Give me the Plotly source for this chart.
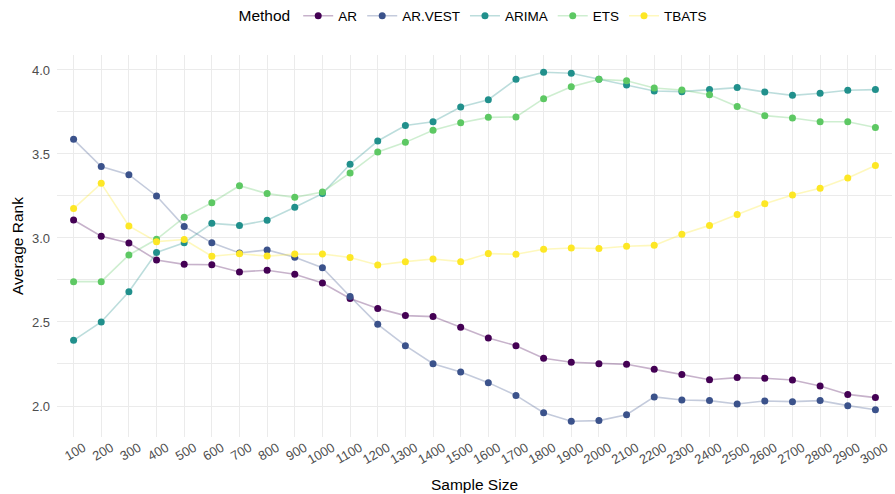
import plotly.graph_objects as go

sample_sizes = [100, 200, 300, 400, 500, 600, 700, 800, 900, 1000,
                1100, 1200, 1300, 1400, 1500, 1600, 1700, 1800, 1900, 2000,
                2100, 2200, 2300, 2400, 2500, 2600, 2700, 2800, 2900, 3000]
x_labels = [str(s) for s in sample_sizes]

ar = [3.107, 3.010, 2.970, 2.869, 2.843, 2.841, 2.798, 2.808, 2.784, 2.732,
      2.640, 2.581, 2.538, 2.532, 2.468, 2.405, 2.359, 2.284, 2.260, 2.252,
      2.248, 2.218, 2.188, 2.156, 2.169, 2.165, 2.155, 2.119, 2.069, 2.050]
ar_vest = [3.587, 3.425, 3.377, 3.250, 3.069, 2.971, 2.911, 2.929, 2.885, 2.823,
           2.652, 2.486, 2.359, 2.252, 2.202, 2.139, 2.063, 1.960, 1.909, 1.913,
           1.948, 2.054, 2.036, 2.032, 2.012, 2.030, 2.026, 2.032, 2.002, 1.978]
arima = [2.391, 2.500, 2.680, 2.914, 2.972, 3.087, 3.075, 3.105, 3.183, 3.264,
         3.439, 3.577, 3.669, 3.692, 3.780, 3.823, 3.944, 3.986, 3.980, 3.944,
         3.911, 3.875, 3.871, 3.883, 3.895, 3.869, 3.849, 3.861, 3.879, 3.883]
ets = [2.740, 2.740, 2.899, 2.992, 3.123, 3.210, 3.311, 3.264, 3.242, 3.274,
       3.387, 3.512, 3.569, 3.641, 3.686, 3.718, 3.720, 3.829, 3.900, 3.944,
       3.936, 3.893, 3.881, 3.853, 3.782, 3.728, 3.714, 3.692, 3.692, 3.657]
tbats = [3.175, 3.325, 3.072, 2.978, 2.991, 2.891, 2.906, 2.892, 2.904, 2.905,
         2.884, 2.839, 2.859, 2.875, 2.859, 2.907, 2.903, 2.933, 2.940, 2.937,
         2.951, 2.956, 3.022, 3.075, 3.139, 3.204, 3.256, 3.296, 3.357, 3.431]

methods = ["AR", "AR.VEST", "ARIMA", "ETS", "TBATS"]
series = [ar, ar_vest, arima, ets, tbats]
colors = ["#440154", "#3B528B", "#21908C", "#5DC863", "#FDE725"]
line_colors = ["rgba(68,1,84,0.3)", "rgba(59,82,139,0.3)", "rgba(33,144,140,0.3)",
               "rgba(93,200,99,0.3)", "rgba(253,231,37,0.3)"]

fig = go.Figure()
for name, vals, c, lc in zip(methods, series, colors, line_colors):
    fig.add_trace(go.Scatter(
        x=x_labels, y=vals, name=name, mode="lines+markers",
        line=dict(color=lc, width=1.6),
        marker=dict(color=c, size=7),
    ))

font = "Liberation Sans, Arial, sans-serif"
fig.update_layout(
    width=895, height=494,
    margin=dict(l=57, r=3, t=55, b=57, autoexpand=False),
    paper_bgcolor="white", plot_bgcolor="white",
    font=dict(family=font, color="#000000", size=13),
    legend=dict(
        orientation="h", x=0.5, xanchor="center", y=1.102, yanchor="middle",
        title=dict(text="Method", font=dict(size=15.5, color="black")),
        font=dict(size=13.5, color="black"),
        itemwidth=30, tracegroupgap=0,
    ),
    showlegend=True,
)
fig.update_xaxes(
    type="category", range=[-0.6, len(x_labels) - 0.4], automargin=False,
    showgrid=True, gridcolor="#EBEBEB", gridwidth=1.1,
    zeroline=False, showline=False, ticks="",
    tickangle=-30, ticklabelshift=10, tickfont=dict(size=13, color="#4D4D4D"),
    title=dict(text="Sample Size", font=dict(size=15.5, color="black"), standoff=12),
)
fig.update_yaxes(
    range=[1.8155, 4.089], dtick=0.5, tick0=2.0, tickformat=".1f", automargin=False,
    showgrid=True, gridcolor="#EBEBEB", gridwidth=1.1,
    minor=dict(dtick=0.25, showgrid=True, gridcolor="#EBEBEB", gridwidth=0.6),
    zeroline=False, showline=False, ticks="", ticklabelstandoff=6,
    tickfont=dict(size=13, color="#4D4D4D"),
    title=dict(text="Average Rank", font=dict(size=15.5, color="black"), standoff=4),
)

fig.write_html("out.html", config={"displayModeBar": False},
               post_script="document.body.style.margin='0px';")
